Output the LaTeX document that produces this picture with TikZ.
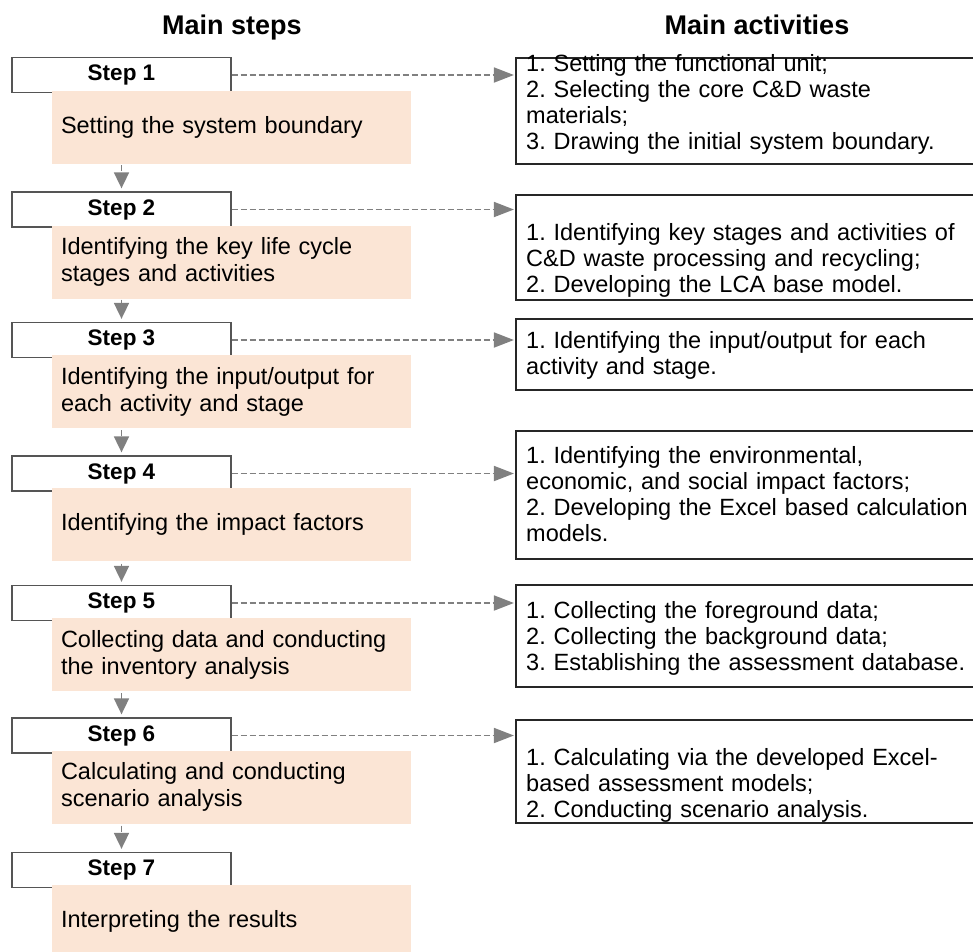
\documentclass[tikz,border=0pt]{standalone}
\usepackage{fontspec}
\setmainfont{Liberation Sans}
\usetikzlibrary{arrows.meta}
\definecolor{peach}{HTML}{FBE5D5}
\definecolor{linkgray}{HTML}{808080}
\definecolor{stepframe}{HTML}{555555}
\frenchspacing
\hyphenpenalty=10000
\exhyphenpenalty=10000
\begin{document}
\begin{tikzpicture}[x=1pt,y=-1pt,
  heading/.style={anchor=base, inner sep=0pt, font=\bfseries\fontsize{27}{30}\selectfont},
  stepbox/.style={draw=stepframe, line width=1.3pt, fill=white, minimum width=219pt,
    minimum height=35pt, inner sep=0pt, font=\bfseries\fontsize{22.5}{24}\selectfont},
  taskbox/.style={fill=peach, minimum width=359pt, minimum height=73pt, inner xsep=9pt,
    inner ysep=0pt, text width=341pt, align=left, font=\fontsize{23.5}{27}\selectfont},
  actbox/.style={draw=black!85, line width=1.2pt, minimum width=474pt, inner sep=0pt},
  acttext/.style={anchor=base west, inner sep=0pt, text width=470pt, align=left,
    font=\fontsize{23.5}{26}\selectfont},
  flow/.style={draw=linkgray, line width=1.8pt, dash pattern=on 6pt off 3pt,
    -{Triangle[length=16pt,width=15pt]}, shorten >=3pt},
  link/.style={draw=linkgray, line width=1.8pt, dash pattern=on 6pt off 3pt,
    -{Triangle[length=20pt,width=15pt]}, shorten >=1.5pt},
]
\useasboundingbox (0,0) rectangle (973,951);

% column headings
\node[heading] (h1) at (232,34) {Main steps};
\node[heading] (h2) at (757,34) {Main activities};

% step boxes
\node[stepbox] (s1) at (121.5,75)    {Step 1};
\node[stepbox] (s2) at (121.5,209.5) {Step 2};
\node[stepbox] (s3) at (121.5,340)   {Step 3};
\node[stepbox] (s4) at (121.5,473.5) {Step 4};
\node[stepbox] (s5) at (121.5,603)   {Step 5};
\node[stepbox] (s6) at (121.5,735.5) {Step 6};
\node[stepbox] (s7) at (121.5,870)   {Step 7};

% vertical flow between steps (drawn under the task boxes)
\foreach \a/\b in {s1/s2,s2/s3,s3/s4,s4/s5,s5/s6,s6/s7}
  \draw[flow] (\a.south) -- (\b.north);

% task boxes
\node[taskbox] (t1) at (231.5,127.5) {Setting the system boundary};
\node[taskbox] (t2) at (231.5,262)   {Identifying the key life cycle\\stages and activities};
\node[taskbox] (t3) at (231.5,391.5) {Identifying the input/output for\\each activity and stage};
\node[taskbox] (t4) at (231.5,524.5) {Identifying the impact factors};
\node[taskbox] (t5) at (231.5,654.5) {Collecting data and conducting\\the inventory analysis};
\node[taskbox] (t6) at (231.5,787)   {Calculating and conducting\\scenario analysis};
\node[taskbox] (t7) at (231.5,921.5) {Interpreting the results};

% activity boxes
\node[actbox, minimum height=106pt] (a1) at (753,111)   {};
\node[actbox, minimum height=105pt] (a2) at (753,247.5) {};
\node[actbox, minimum height=71pt]  (a3) at (753,354.5) {};
\node[actbox, minimum height=128pt] (a4) at (753,495)   {};
\node[actbox, minimum height=102pt] (a5) at (753,636)   {};
\node[actbox, minimum height=103pt] (a6) at (753,771.5) {};

\node[acttext] (x1) at (526,71)  {1. Setting the functional unit;\\2. Selecting the core C\&D waste\\materials;\\3. Drawing the initial system boundary.};
\node[acttext] (x2) at (526,240) {1. Identifying key stages and activities of\\C\&D waste processing and recycling;\\2. Developing the LCA base model.};
\node[acttext] (x3) at (526,348) {1. Identifying the input/output for each\\activity and stage.};
\node[acttext] (x4) at (526,463) {1. Identifying the environmental,\\economic, and social impact factors;\\2. Developing the Excel based calculation\\models.};
\node[acttext] (x5) at (526,618) {1. Collecting the foreground data;\\2. Collecting the background data;\\3. Establishing the assessment database.};
\node[acttext] (x6) at (526,765) {1. Calculating via the developed Excel-\\based assessment models;\\2. Conducting scenario analysis.};

% links from steps to activities
\foreach \s/\a in {s1/a1,s2/a2,s3/a3,s4/a4,s5/a5,s6/a6}
  \draw[link] (\s.east) -- (\s.east -| \a.west);
\end{tikzpicture}
\end{document}
